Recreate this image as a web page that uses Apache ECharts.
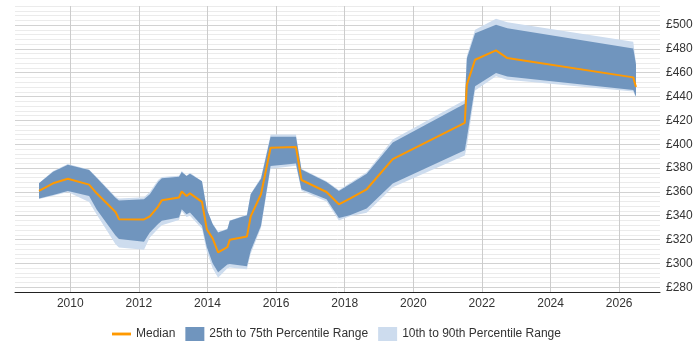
<!DOCTYPE html>
<html>
<head>
<meta charset="utf-8">
<script src="https://cdn.jsdelivr.net/npm/echarts@6/dist/echarts.min.js"></script>
<style>
  html, body { margin: 0; padding: 0; background: #fff; }
  #chart { width: 700px; height: 350px; }
</style>
</head>
<body>
<div id="chart"></div>
<script>
// sample dates (decimal years) and percentile values
const years = [2009.09, 2009.50, 2009.93, 2010.55, 2010.77, 2011.32, 2011.42, 2012.15, 2012.32, 2012.56,
  2012.67, 2013.17, 2013.25, 2013.39, 2013.49, 2013.84, 2013.98, 2014.15, 2014.31, 2014.58,
  2014.65, 2015.15, 2015.26, 2015.56, 2015.84, 2016.58, 2016.74, 2017.47, 2017.83, 2018.15,
  2018.64, 2019.40, 2021.50, 2021.56, 2021.80, 2022.41, 2022.74, 2026.41, 2026.49]
const median = [360.8, 367.2, 371.1, 366.1, 358.8, 343.2, 337.1, 336.9, 339.4, 347.7,
  353.0, 355.3, 360.3, 356.6, 358.8, 351.6, 328.7, 321.0, 309.3, 313.7,
  319.8, 322.6, 339.4, 358.0, 397.1, 397.6, 370.0, 359.9, 349.6, 354.4,
  362.2, 387.5, 418.0, 450.0, 470.9, 478.7, 472.3, 456.1, 448.1]
const p25 = [354.4, 357.4, 360.8, 356.6, 345.2, 323.5, 320.4, 318.1, 326.0, 333.0,
  335.7, 338.5, 345.5, 341.3, 342.7, 331.5, 313.7, 300.1, 292.5, 299.0,
  299.5, 297.6, 310.6, 331.5, 381.7, 383.9, 362.2, 353.8, 338.0, 340.5,
  346.0, 367.0, 395.0, 405.0, 448.6, 459.8, 456.9, 445.5, 440.0]
const p75 = [367.2, 377.0, 382.8, 378.3, 371.8, 355.1, 352.7, 353.8, 358.0, 368.3,
  371.4, 372.8, 376.7, 373.3, 375.3, 368.9, 345.5, 333.0, 326.0, 328.7,
  335.7, 340.5, 358.0, 371.0, 406.3, 406.3, 378.9, 368.3, 360.8, 366.4,
  375.2, 401.5, 434.0, 472.0, 493.2, 500.2, 497.4, 480.3, 467.0]
const p10 = [354.0, 356.8, 360.0, 351.6, 341.0, 316.0, 313.4, 311.4, 321.8, 329.0,
  332.0, 336.5, 344.0, 339.0, 340.0, 329.0, 310.0, 296.0, 288.0, 296.0,
  296.5, 295.0, 308.0, 330.0, 379.5, 382.0, 361.0, 352.0, 336.0, 339.5,
  342.5, 364.0, 390.6, 398.0, 445.0, 457.0, 454.2, 444.3, 439.0]
const p90 = [367.5, 377.5, 383.5, 378.8, 372.5, 356.0, 354.5, 355.5, 360.0, 370.0,
  372.5, 373.5, 377.5, 373.5, 376.0, 369.0, 345.5, 333.5, 326.5, 329.0,
  336.0, 341.0, 358.5, 372.0, 408.2, 408.2, 379.5, 369.0, 361.5, 367.5,
  376.5, 404.0, 437.2, 474.0, 496.0, 505.2, 502.4, 486.0, 468.0]
const yearTicks = [2010, 2012, 2014, 2016, 2018, 2020, 2022, 2024, 2026]

const chart = echarts.init(document.getElementById('chart'))

const font = 'Liberation Sans, Arial, sans-serif'

// one polygon per band: upper edge left to right, lower edge back again
function bandSeries(name, lo, hi, color) {
  return {
    name,
    type: 'custom',
    itemStyle: { color },
    encode: { x: 0, y: [1, 2] },
    data: years.map((y, i) => [y, lo[i], hi[i]]),
    renderItem(params, api) {
      if (params.dataIndex !== 0) return null
      const top = years.map((y, i) => api.coord([y, hi[i]]))
      const bottom = years.map((y, i) => api.coord([y, lo[i]])).reverse()
      return {
        type: 'polygon',
        shape: { points: top.concat(bottom) },
        style: { fill: color },
      }
    },
  }
}

chart.setOption({
  animation: false,
  textStyle: { fontFamily: font },
  grid: { left: 15, right: 40, top: 6, bottom: 58 },
  legend: {
    left: 107,
    top: 322,
    itemWidth: 19,
    itemHeight: 14,
    itemGap: 10,
    textStyle: { fontSize: 12, color: '#333', fontFamily: font },
    data: [
      { name: 'Median', icon: 'path://M0,0H20V3H0Z' },
      { name: '25th to 75th Percentile Range', icon: 'rect' },
      { name: '10th to 90th Percentile Range', icon: 'rect' },
    ],
  },
  xAxis: {
    type: 'value',
    min: 2008.39,
    max: 2027.19,
    axisLine: { lineStyle: { color: '#222', width: 1 } },
    axisTick: { show: false, customValues: yearTicks },
    axisLabel: {
      customValues: yearTicks,
      formatter: v => String(v),
      color: '#333',
      fontSize: 12,
      margin: 6,
    },
    splitLine: { show: true, lineStyle: { color: '#cccccc' } },
  },
  yAxis: {
    type: 'value',
    position: 'right',
    min: 276,
    max: 516,
    interval: 4,
    axisLine: { show: false },
    axisTick: { show: false },
    axisLabel: {
      formatter: v => (v % 20 === 0 ? '£' + v : ''),
      color: '#333',
      fontSize: 12,
      margin: 6,
    },
    splitLine: { lineStyle: { color: ['#ebebeb', '#d2d2d2', '#ebebeb', '#ebebeb', '#ebebeb'] } },
  },
  series: [
    bandSeries('10th to 90th Percentile Range', p10, p90, '#cddcee'),
    bandSeries('25th to 75th Percentile Range', p25, p75, '#7095be'),
    {
      name: 'Median', type: 'line', symbol: 'none', color: '#ff9900',
      lineStyle: { color: '#ff9900', width: 2 },
      data: years.map((y, i) => [y, median[i]]),
    },
  ],
})
</script>
</body>
</html>
